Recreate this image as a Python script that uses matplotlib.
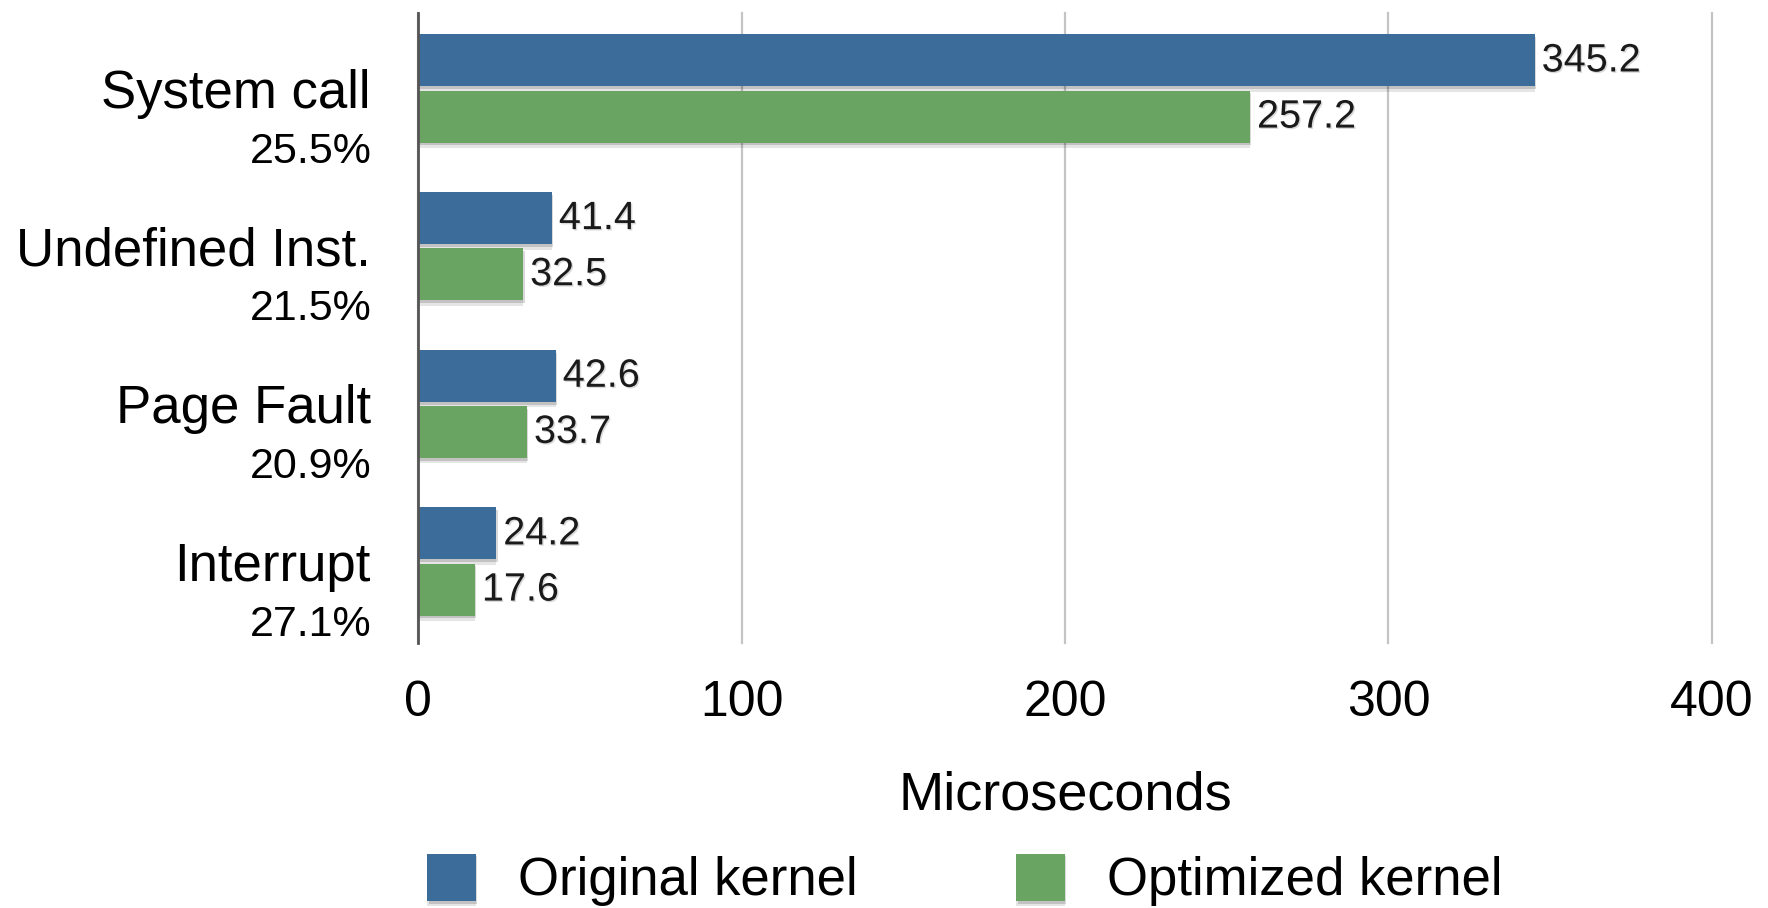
import matplotlib
matplotlib.use("Agg")
from matplotlib import pyplot as plt
from matplotlib import patheffects as pe
from matplotlib import transforms as mtrans
import numpy as np

categories = ['System call', 'Undefined Inst.', 'Page Fault', 'Interrupt']
shares = ['25.5%', '21.5%', '20.9%', '27.1%']
original = [345.2, 41.4, 42.6, 24.2]
optimized = [257.2, 32.5, 33.7, 17.6]

BLUE = '#3b6c9a'
GREEN = '#6aa463'

plt.rcParams['font.family'] = ['Liberation Sans', 'DejaVu Sans']

W, H = 1768, 908
fig = plt.figure(figsize=(W / 100, H / 100), dpi=100)
ax = fig.add_axes([418 / W, 1 - 643 / H, 1294 / W, 630 / H])

y = np.arange(len(categories))
h = 0.33
off = 0.178

bar_fx = [pe.SimplePatchShadow(offset=(0, -4), shadow_rgbFace='k', alpha=0.10),
          pe.SimplePatchShadow(offset=(1, -2), shadow_rgbFace='k', alpha=0.15),
          pe.Normal()]
txt_fx = [pe.withSimplePatchShadow(offset=(1, -1), shadow_rgbFace='k', alpha=0.15)]

b1 = ax.barh(y - off, original, h, color=BLUE, label='Original kernel', zorder=3)
b2 = ax.barh(y + off, optimized, h, color=GREEN, label='Optimized kernel', zorder=3)
for b in list(b1) + list(b2):
    b.set_path_effects(bar_fx)

for bars, vals in ((b1, original), (b2, optimized)):
    for rect, v in zip(bars, vals):
        t = ax.annotate(f'{v:.1f}', xy=(v, rect.get_y() + rect.get_height() / 2),
                        xytext=(5, 0), textcoords='offset points',
                        va='center', ha='left', fontsize=28.5, color='#1a1a1a', zorder=4)
        t.set_path_effects(txt_fx)

ax.set_xlim(0, 400)
ax.set_ylim(3.517, -0.479)
ax.set_xticks([0, 100, 200, 300, 400])
ax.set_yticks(y)
ax.set_yticklabels(categories, fontsize=38)
# nudge category labels up a little
for lab in ax.get_yticklabels():
    lab.set_transform(lab.get_transform() + mtrans.ScaledTranslation(0, 3 / 72, fig.dpi_scale_trans))
ax.tick_params(axis='y', length=0, pad=34)
ax.tick_params(axis='x', length=0, pad=27, labelsize=36)
ax.grid(axis='x', color='#c4c4c4', linewidth=1.6, zorder=0)
ax.grid(axis='y', visible=False)
for gl in ax.get_xgridlines():
    gl.set_clip_on(False)
for s in ['top', 'right', 'bottom']:
    ax.spines[s].set_visible(False)
ax.spines['left'].set_color('#555555')
ax.spines['left'].set_linewidth(2)
ax.spines['left'].set_zorder(5)

for yi, s in zip(y, shares):
    ax.text(-0.036, yi + 0.40, s, transform=ax.get_yaxis_transform(),
            ha='right', va='center', fontsize=31)

fig.text(1065 / W, 1 - 795 / H, 'Microseconds', ha='center', va='center', fontsize=39)

fig.legend(handles=[b1, b2], labels=['Original kernel', 'Optimized kernel'],
           loc='center', bbox_to_anchor=(965 / W, 1 - 880 / H), ncol=2,
           frameon=False, fontsize=38, handlelength=0.92, handleheight=1.0,
           handletextpad=0.8, columnspacing=3.0, borderpad=0)

fig.savefig('out.png', dpi=100, facecolor='white')
